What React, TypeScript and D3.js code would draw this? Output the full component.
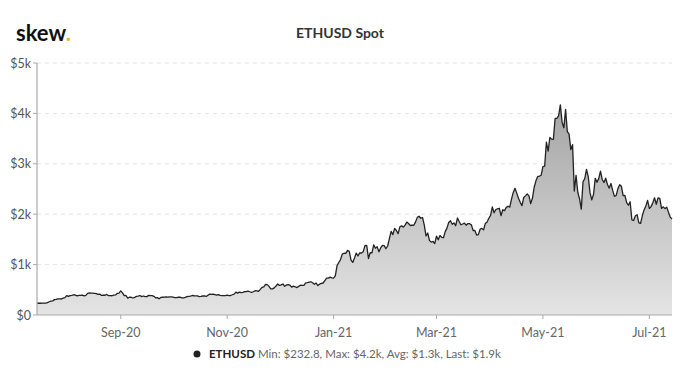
import React from "react";
import * as d3 from "d3";

const START_DATE = "2020-07-15";

// Daily ETHUSD spot close, 2020-07-15 .. 2021-07-14
const jul20 = [238, 233, 233, 234, 236, 236, 245, 263, 275, 279, 305, 311, 322, 318, 317, 335, 345];
const aug20 = [386, 370, 385, 389, 402, 396, 379, 391, 391, 395, 380, 389, 428, 437, 433, 433, 430, 423, 407, 416, 389, 396, 392, 408, 383, 385, 382, 395, 399, 428, 435];
const sep20 = [477, 440, 385, 387, 335, 353, 352, 337, 351, 368, 374, 387, 365, 377, 364, 365, 389, 384, 385, 371, 341, 344, 321, 349, 352, 354, 357, 354, 360, 359];
const oct20 = [353, 346, 346, 352, 353, 341, 341, 350, 365, 370, 374, 387, 382, 379, 378, 366, 368, 377, 379, 368, 392, 414, 409, 412, 406, 393, 404, 388, 386, 383, 386];
const nov20 = [396, 383, 387, 402, 415, 455, 435, 453, 444, 449, 462, 462, 475, 461, 448, 461, 482, 479, 471, 509, 549, 560, 608, 603, 568, 518, 518, 538, 575, 615];
const dec20 = [587, 598, 616, 570, 596, 601, 591, 554, 573, 560, 545, 568, 590, 586, 589, 636, 642, 654, 659, 639, 609, 634, 583, 611, 626, 635, 683, 731, 731, 751, 737];
const jan21 = [730, 775, 979, 1041, 1100, 1208, 1225, 1224, 1281, 1262, 1090, 1043, 1131, 1229, 1171, 1233, 1230, 1257, 1377, 1382, 1121, 1236, 1232, 1391, 1324, 1357, 1253, 1331, 1382, 1377, 1314];
const feb21 = [1369, 1515, 1660, 1594, 1719, 1677, 1614, 1750, 1769, 1744, 1784, 1843, 1815, 1776, 1781, 1781, 1848, 1937, 1960, 1919, 1935, 1782, 1571, 1626, 1476, 1446, 1459, 1417];
const mar21 = [1566, 1492, 1576, 1542, 1533, 1654, 1724, 1834, 1869, 1799, 1826, 1772, 1924, 1854, 1791, 1806, 1823, 1782, 1814, 1812, 1789, 1677, 1678, 1587, 1595, 1702, 1717, 1690, 1817, 1846, 1919];
const apr21 = [1977, 2143, 2028, 2093, 2108, 2118, 1971, 2089, 2072, 2135, 2158, 2140, 2300, 2432, 2515, 2418, 2317, 2235, 2171, 2330, 2364, 2403, 2363, 2211, 2316, 2535, 2662, 2747, 2757, 2773];
const may21 = [2945, 2952, 3431, 3253, 3523, 3490, 3484, 3903, 3903, 3953, 4169, 3826, 3716, 4080, 3638, 3587, 3282, 3380, 2460, 2772, 2435, 2305, 2100, 2644, 2707, 2890, 2744, 2427, 2284, 2390, 2711];
const jun21 = [2633, 2706, 2856, 2689, 2630, 2714, 2590, 2517, 2609, 2472, 2353, 2372, 2508, 2586, 2554, 2368, 2373, 2231, 2178, 2246, 1889, 1875, 1970, 1990, 1830, 1817, 1973, 2085, 2164, 2274];
const jul21 = [2114, 2150, 2227, 2325, 2198, 2324, 2316, 2115, 2146, 2111, 2140, 2037, 1941, 1905];

const prices = [...jul20, ...aug20, ...sep20, ...oct20, ...nov20, ...dec20, ...jan21, ...feb21, ...mar21, ...apr21, ...may21, ...jun21, ...jul21];

const yTicks = [0, 1000, 2000, 3000, 4000, 5000];
const yTickLabels = ["$0", "$1k", "$2k", "$3k", "$4k", "$5k"];
const xTickDates = ["2020-09-01", "2020-11-01", "2021-01-01", "2021-03-01", "2021-05-01", "2021-07-01"];
const xTickLabels = ["Sep-20", "Nov-20", "Jan-21", "Mar-21", "May-21", "Jul-21"];

const TITLE = "ETHUSD Spot";
const SERIES = "ETHUSD";
const LEGEND_STATS = "Min: $232.8, Max: $4.2k, Avg: $1.3k, Last: $1.9k";

const parse = d3.utcParse("%Y-%m-%d");

export default function App() {
  const W = 680;
  const H = 380;
  const left = 37;
  const right = 672;
  const top = 63;
  const bottom = 315;

  const start = parse(START_DATE) as Date;
  const data = prices.map((v, i) => ({ date: d3.utcDay.offset(start, i), value: v }));
  const end = data[data.length - 1].date;

  const x = d3.scaleUtc().domain([start, end]).range([left, right]);
  const y = d3.scaleLinear().domain([0, 5000]).range([bottom, top]);

  const area = d3
    .area<{ date: Date; value: number }>()
    .x((d) => x(d.date))
    .y0(y(0))
    .y1((d) => y(d.value));
  const line = d3
    .line<{ date: Date; value: number }>()
    .x((d) => x(d.date))
    .y((d) => y(d.value));

  const font = "Lato, 'Open Sans', sans-serif";

  return (
    <svg
      width={W}
      height={H}
      style={{ position: "absolute", left: 0, top: 0, background: "#fff" }}
      fontFamily={font}
    >
      <defs>
        <linearGradient id="fillGrad" gradientUnits="userSpaceOnUse" x1="0" y1={top + 40} x2="0" y2={bottom}>
          <stop offset="0" stopColor="#a4a4a4" />
          <stop offset="1" stopColor="#e4e4e4" />
        </linearGradient>
      </defs>

      {/* logo */}
      <text x={16} y={41} fontSize={22} fontWeight={700} fill="#111">
        skew<tspan fill="#e8b23a">.</tspan>
      </text>

      {/* title */}
      <text x={340} y={38} textAnchor="middle" fontSize={14} fontWeight={700} fill="#333">
        {TITLE}
      </text>

      {/* grid */}
      {yTicks.map((t) =>
        t === 0 ? null : (
          <line key={"g" + t} x1={left} x2={right} y1={y(t)} y2={y(t)} stroke="#e3e3e3" strokeDasharray="4 4" strokeWidth={1} />
        )
      )}

      {/* area + line */}
      <path d={area(data) || ""} fill="url(#fillGrad)" />
      <path d={line(data) || ""} fill="none" stroke="#222" strokeWidth={1.3} strokeLinejoin="round" />

      {/* y axis */}
      <line x1={left} x2={left} y1={top} y2={bottom} stroke="#aaa" strokeWidth={1.2} />
      {yTicks.map((t, i) => (
        <g key={"y" + t}>
          <line x1={left - 4} x2={left} y1={y(t)} y2={y(t)} stroke="#aaa" />
          <text x={31} y={y(t) + 4.5} textAnchor="end" fontSize={12.5} fill="#555">
            {yTickLabels[i]}
          </text>
        </g>
      ))}

      {/* x axis */}
      <line x1={left} x2={right} y1={bottom} y2={bottom} stroke="#aaa" strokeWidth={1.2} />
      {xTickDates.map((ds, i) => {
        const xx = x(parse(ds) as Date);
        return (
          <g key={ds}>
            <line x1={xx} x2={xx} y1={bottom} y2={bottom + 4} stroke="#aaa" />
            <text x={xx} y={337} textAnchor="middle" fontSize={12.5} fill="#666">
              {xTickLabels[i]}
            </text>
          </g>
        );
      })}

      {/* legend */}
      <circle cx={197} cy={354} r={3.5} fill="#222" />
      <text x={209} y={358} fontSize={11.5} fill="#666">
        <tspan fontWeight={700} fill="#222">{SERIES}</tspan>
        <tspan dx={3}>{LEGEND_STATS}</tspan>
      </text>
    </svg>
  );
}
